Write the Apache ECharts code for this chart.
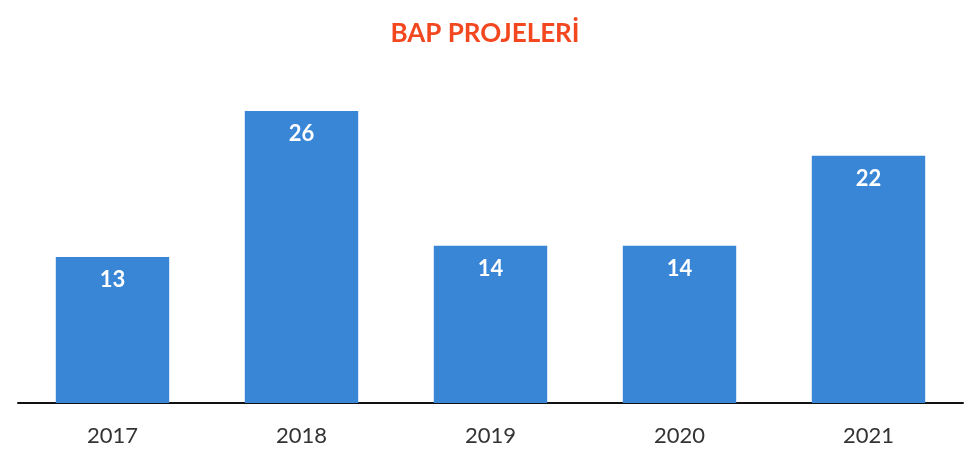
<!DOCTYPE html>
<html>
<head>
<meta charset="utf-8">
<script src="https://cdn.jsdelivr.net/npm/echarts@6/dist/echarts.min.js"></script>
<style>
    html, body { margin: 0; padding: 0; background: #fff; }
    #chart {
        width: 970px;
        height: 461px;
        box-sizing: border-box;
    }
</style>
</head>
<body>
<div id="chart"></div>
<script>
    // values
    var years = ['2017', '2018', '2019', '2020', '2021'];
    var projects = [13, 26, 14, 14, 22];
    var titleText = 'BAP PROJELERİ';

    var chart = echarts.init(document.getElementById('chart'));
    chart.setOption({
        backgroundColor: '#fff',
        animation: false,
        title: {
            text: titleText,
            left: 'center',
            top: 16,
            textStyle: {
                color: '#F2471F',
                fontFamily: 'Lato',
                fontWeight: 'bold',
                fontSize: 26
            }
        },
        grid: { left: 18, right: 7, top: 66, bottom: 58 },
        xAxis: {
            type: 'category',
            data: years,
            axisLine: { lineStyle: { color: '#111', width: 2 } },
            axisTick: { show: false },
            axisLabel: {
                color: '#333',
                fontFamily: 'Lato',
                fontSize: 22,
                margin: 22
            }
        },
        yAxis: {
            type: 'value',
            min: 0,
            max: 30,
            show: false,
            splitLine: { show: false }
        },
        series: [{
            type: 'bar',
            data: projects,
            barWidth: '60%',
            itemStyle: { color: '#3A86D6' },
            label: {
                show: true,
                position: 'insideTop',
                distance: 12,
                color: '#fff',
                fontFamily: 'Lato',
                fontWeight: 'bold',
                fontSize: 22
            }
        }]
    });
</script>
</body>
</html>
